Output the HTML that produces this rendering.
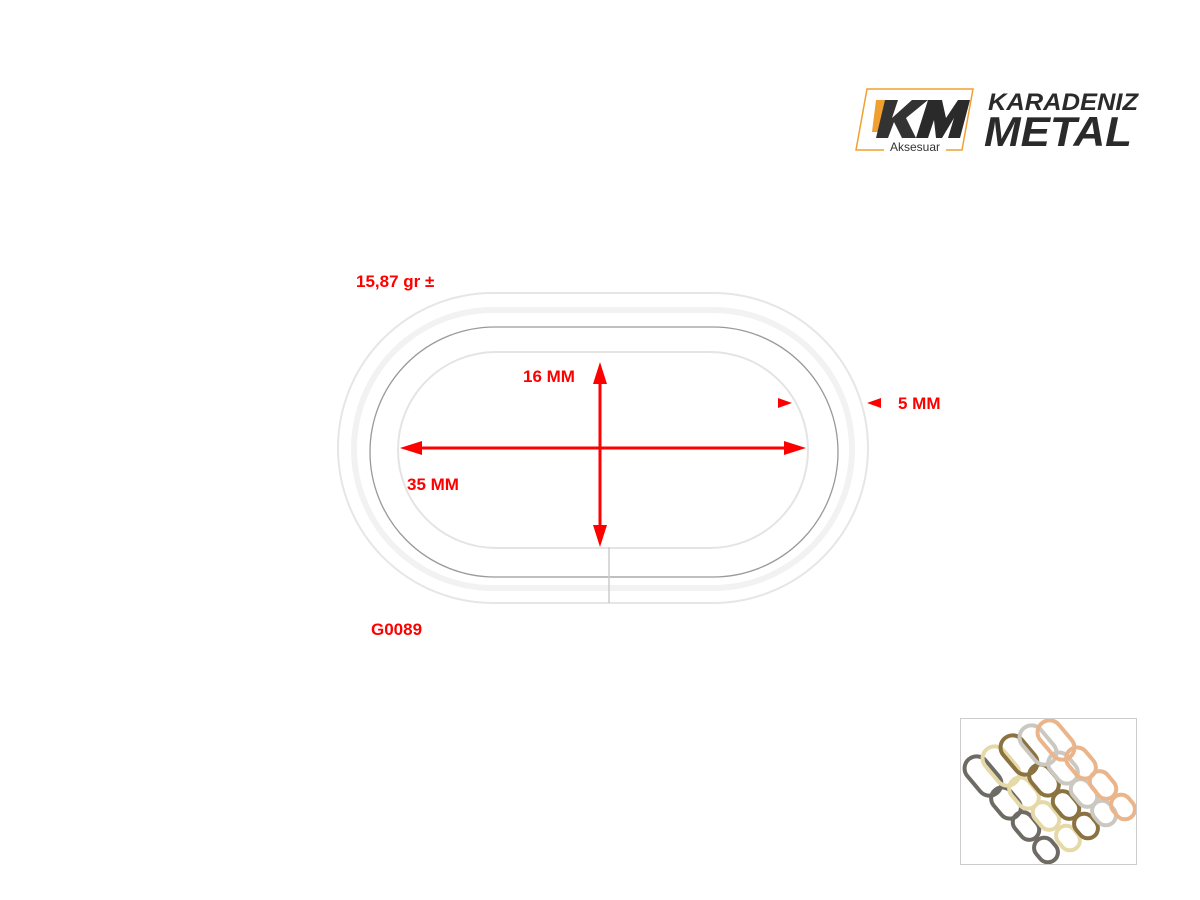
<!DOCTYPE html>
<html><head><meta charset="utf-8"><style>
html,body{margin:0;padding:0;background:#fff;width:1200px;height:900px;overflow:hidden;position:relative;font-family:"Liberation Sans",sans-serif}
.t{position:absolute;color:#f00;font-weight:bold;font-size:17px;white-space:nowrap}
</style></head><body>
<svg style="position:absolute;left:850px;top:80px" width="300" height="80">
 <polygon points="17,9 123,9 112,70 6,70" fill="none" stroke="#f0a030" stroke-width="1.5"/>
 <polygon points="26,20 38,20 28,52 22,52" fill="#f0a030"/>
 <polygon points="35,20 48,20 42,38 62,20 78,20 56,38 66,58 52,58 44,42 38,58 26,58" fill="#333"/>
 <polygon points="78,20 92,20 96,38 108,20 120,20 110,58 98,58 104,38 92,58 86,58 84,40 78,58 66,58" fill="#2a2a2a"/>
 <rect x="34" y="60" width="62" height="14" fill="#fff"/>
 <text x="65" y="71" font-size="12" fill="#333" text-anchor="middle" font-family="Liberation Sans">Aksesuar</text>
 <text x="138" y="30" font-size="24" font-weight="bold" font-style="italic" fill="#2a2a2a" font-family="Liberation Sans" textLength="150" lengthAdjust="spacingAndGlyphs">KARADENIZ</text>
 <text x="134" y="66" font-size="42" font-weight="bold" font-style="italic" fill="#2a2a2a" font-family="Liberation Sans" textLength="148" lengthAdjust="spacingAndGlyphs">METAL</text>
</svg>
<svg style="position:absolute;left:0;top:0" width="1200" height="900">
 <rect x="338" y="293" width="530" height="310" rx="155" fill="#fff" stroke="#e6e6e6" stroke-width="2"/>
 <rect x="354" y="310" width="498" height="278" rx="139" fill="none" stroke="#f2f2f2" stroke-width="6"/>
 <rect x="370" y="327" width="468" height="250" rx="125" fill="none" stroke="#999" stroke-width="1.3"/>
 <rect x="398" y="352" width="410" height="196" rx="98" fill="#fff" stroke="#e4e4e4" stroke-width="2"/>
 <line x1="609" y1="547" x2="609" y2="603" stroke="#ccc" stroke-width="1.5"/>
 <line x1="420" y1="448" x2="785" y2="448" stroke="#f00" stroke-width="3"/>
 <polygon points="400,448 422,441 422,455" fill="#f00"/>
 <polygon points="806,448 784,441 784,455" fill="#f00"/>
 <line x1="600" y1="380" x2="600" y2="528" stroke="#f00" stroke-width="3"/>
 <polygon points="600,362 593,384 607,384" fill="#f00"/>
 <polygon points="600,547 593,525 607,525" fill="#f00"/>
 <polygon points="778,398 792,403 778,408" fill="#f00"/>
 <polygon points="881,398 867,403 881,408" fill="#f00"/>
</svg>
<div class="t" style="left:356px;top:272px">15,87 gr ±</div>
<div class="t" style="left:523px;top:367px">16 MM</div>
<div class="t" style="left:407px;top:475px">35 MM</div>
<div class="t" style="left:898px;top:394px">5 MM</div>
<div class="t" style="left:371px;top:620px">G0089</div>
<div style="position:absolute;left:960px;top:718px;width:177px;height:147px;border:1px solid #ccc;box-sizing:border-box;overflow:hidden">
<svg width="177" height="147">
 <g fill="none" stroke-width="4">
 <g stroke="#6e6a64">
  <rect x="-12" y="-22" width="24" height="44" rx="12" transform="translate(22,57) rotate(-40)"/>
  <rect x="-11" y="-17" width="22" height="34" rx="11" transform="translate(45,84) rotate(-40)"/>
  <rect x="-10" y="-15" width="20" height="30" rx="10" transform="translate(65,107) rotate(-40)"/>
  <rect x="-10" y="-13" width="20" height="26" rx="10" transform="translate(85,131) rotate(-40)"/>
 </g>
 <g stroke="#e6d9a8">
  <rect x="-12" y="-22" width="24" height="44" rx="12" transform="translate(40,47) rotate(-40)"/>
  <rect x="-11" y="-17" width="22" height="34" rx="11" transform="translate(63,74) rotate(-40)"/>
  <rect x="-10" y="-15" width="20" height="30" rx="10" transform="translate(85,97) rotate(-40)"/>
  <rect x="-10" y="-13" width="20" height="26" rx="10" transform="translate(107,119) rotate(-40)"/>
 </g>
 <g stroke="#8a7340">
  <rect x="-12" y="-22" width="24" height="44" rx="12" transform="translate(58,36) rotate(-40)"/>
  <rect x="-11" y="-17" width="22" height="34" rx="11" transform="translate(83,61) rotate(-40)"/>
  <rect x="-10" y="-15" width="20" height="30" rx="10" transform="translate(105,86) rotate(-40)"/>
  <rect x="-10" y="-13" width="20" height="26" rx="10" transform="translate(125,107) rotate(-40)"/>
 </g>
 <g stroke="#cbc8c2">
  <rect x="-12" y="-22" width="24" height="44" rx="12" transform="translate(77,26) rotate(-40)"/>
  <rect x="-11" y="-17" width="22" height="34" rx="11" transform="translate(102,49) rotate(-40)"/>
  <rect x="-10" y="-15" width="20" height="30" rx="10" transform="translate(123,74) rotate(-40)"/>
  <rect x="-10" y="-13" width="20" height="26" rx="10" transform="translate(143,94) rotate(-40)"/>
 </g>
 <g stroke="#eab58a">
  <rect x="-12" y="-22" width="24" height="44" rx="12" transform="translate(95,21) rotate(-40)"/>
  <rect x="-11" y="-17" width="22" height="34" rx="11" transform="translate(120,44) rotate(-40)"/>
  <rect x="-10" y="-15" width="20" height="30" rx="10" transform="translate(142,66) rotate(-40)"/>
  <rect x="-10" y="-13" width="20" height="26" rx="10" transform="translate(162,88) rotate(-40)"/>
 </g>
 </g>
</svg>
</div>
</body></html>
